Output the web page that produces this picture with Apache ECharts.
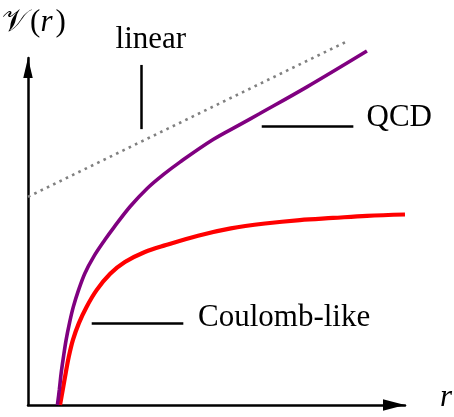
<!DOCTYPE html>
<html>
<head>
<meta charset="utf-8">
<script src="https://cdn.jsdelivr.net/npm/echarts@6/dist/echarts.min.js"></script>
<style>
  html, body { margin: 0; padding: 0; background: #fff; }
  #chart { width: 454px; height: 417px; }
</style>
</head>
<body>
<div id="chart"></div>
<script>
// Coulomb-like potential: V(r) = -a/r + c
const coulombR = [0.85, 0.92, 1.00, 1.08, 1.19, 1.35, 1.55, 1.82, 2.18, 2.57, 3.10, 3.66, 4.51, 5.38, 6.29, 7.21, 8.09, 8.99, 10.00];
const coulombV = [0.00, 0.43, 0.92, 1.38, 1.87, 2.36, 2.82, 3.31, 3.78, 4.12, 4.41, 4.61, 4.88, 5.09, 5.23, 5.33, 5.39, 5.45, 5.49];

// QCD (Cornell) potential: V(r) = -a/r + b r + c
const qcdR = [0.78, 0.83, 0.88, 0.94, 1.01, 1.10, 1.20, 1.34, 1.51, 1.74, 2.04, 2.28, 2.71, 3.16, 3.58, 4.03, 4.91, 5.62, 6.15, 7.39, 8.99];
const qcdV = [0.00, 0.43, 0.92, 1.38, 1.87, 2.36, 2.82, 3.31, 3.80, 4.27, 4.76, 5.12, 5.72, 6.24, 6.63, 7.00, 7.65, 8.08, 8.40, 9.16, 10.20];

// Linear confining term
const linearR = [0.0, 8.5];
const linearV = [6.0, 10.5];

// Annotation leaders (data units)
const qcdLeader = [[6.20, 8.04], [8.63, 8.04]];
const coulombLeader = [[1.69, 2.37], [4.12, 2.37]];
const linearLeader = [[3.00, 7.95], [3.00, 9.80]];

// Text anchors (data units): [text, r, V, align, italic]
const labels = [
  ['linear', 3.26, 10.53, 'center', false],
  ['QCD', 8.98, 8.28, 'left', false],
  ['Coulomb-like', 4.51, 2.52, 'left', false],
  ['r', 10.93, 0.22, 'left', true]
];
// Axis title pieces: script V, then "(", italic r, ")"
const yTitleParts = [
  ['𝒱', -0.69, 11.02, false],
  ['(', 0.05, 11.02, false],
  ['r', 0.33, 11.02, true],
  [')', 0.73, 11.02, false]
];

const zip = (xs, ys) => xs.map((x, i) => [x, ys[i]]);

function leader(pts) {
  return {
    silent: true,
    symbol: ['none', 'none'],
    label: { show: false },
    lineStyle: { color: '#000', width: 2.5, type: 'solid' },
    emphasis: { disabled: true },
    data: [[{ coord: pts[0] }, { coord: pts[1] }]]
  };
}

const axisArrow = (size) => ({
  show: true,
  symbol: ['none', 'triangle'],
  symbolSize: size,
  symbolOffset: [0, -size[1] / 2],
  lineStyle: { color: '#000', width: 2.5 }
});

const chart = echarts.init(document.getElementById('chart'));
chart.setOption({
  animation: false,
  backgroundColor: '#fff',
  grid: { left: 28, right: 49, top: 58, bottom: 12, containLabel: false },
  xAxis: {
    type: 'value', min: 0, max: 10,
    axisLine: axisArrow([11.5, 22]),
    axisTick: { show: false }, axisLabel: { show: false }, splitLine: { show: false }
  },
  yAxis: {
    type: 'value', min: 0, max: 10,
    axisLine: axisArrow([9.5, 20]),
    axisTick: { show: false }, axisLabel: { show: false }, splitLine: { show: false }
  },
  series: [
    {
      name: 'linear', type: 'line', data: zip(linearR, linearV),
      showSymbol: false, clip: false, silent: true,
      lineStyle: { color: '#808080', width: 2.6, type: [2.6, 4.4] },
      markLine: leader(linearLeader)
    },
    {
      name: 'Coulomb-like', type: 'line', data: zip(coulombR, coulombV),
      showSymbol: false, clip: false, silent: true, smooth: 0.35,
      lineStyle: { color: '#ff0000', width: 4.2 },
      markLine: leader(coulombLeader)
    },
    {
      name: 'QCD', type: 'line', data: zip(qcdR, qcdV),
      showSymbol: false, clip: false, silent: true, smooth: 0.35,
      lineStyle: { color: '#800080', width: 3.6 },
      markLine: leader(qcdLeader)
    }
  ]
});

// Texts placed through the grid's coordinate mapping
const toPx = (r, v) => chart.convertToPixel({ gridIndex: 0 }, [r, v]);
const fontFor = (it) => (it ? 'italic ' : '') + '31px "Liberation Serif"';
const graphics = labels.map(([t, r, v, align, it]) => {
  const p = toPx(r, v);
  return {
    type: 'text', x: p[0], y: p[1], silent: true,
    style: { text: t, font: fontFor(it), fill: '#000', align: align, verticalAlign: 'middle' }
  };
});
yTitleParts.forEach(([t, r, v, it]) => {
  const p = toPx(r, v);
  graphics.push({
    type: 'text', x: p[0], y: p[1], silent: true,
    style: { text: t, font: fontFor(it), fill: '#000', align: 'left', verticalAlign: 'middle' }
  });
});
chart.setOption({ graphic: graphics });
</script>
</body>
</html>
